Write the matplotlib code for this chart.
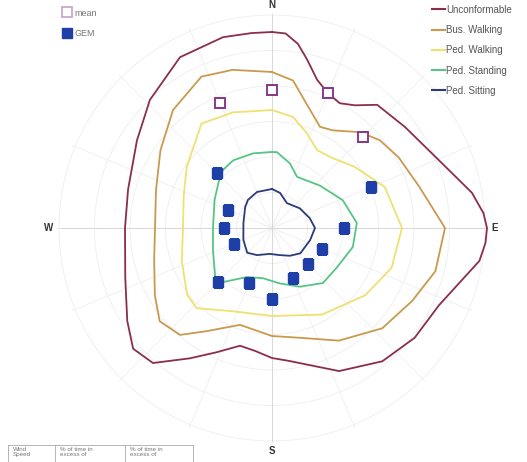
import numpy as np
import matplotlib
matplotlib.use('Agg')
import matplotlib.pyplot as plt
from matplotlib.lines import Line2D

plt.rcParams['font.family'] = ['Liberation Sans', 'DejaVu Sans']

# comfort contours: compass direction (deg) and radius (chart units, outer ring = 213)
unc_dir = [0, 4, 8, 11.8, 16.9, 22.5, 28.5, 34, 40.5, 52.8, 67.8, 80, 86, 90, 94, 99, 114.8,
           127.6, 140.4, 154.9, 172.7, 180, 188, 195.2, 204, 212.2, 221.4, 229, 237.3, 251.2,
           270, 285, 303, 316.4, 331.7, 345.6, 354]
unc_r = [196, 195, 186, 172, 155, 146, 142, 148, 162, 167, 180, 203, 212, 215, 214, 210, 184,
         180, 173, 158, 134, 130, 124, 122, 136, 154, 180, 184, 172, 155,
         147, 149, 161, 177, 194, 197, 196]

bus_dir = [0, 8.1, 17.9, 25.4, 31.9, 42.5, 50.8, 60.8, 74.4, 90, 104.8, 117.5, 132.3, 149.3,
           163.3, 180, 198.3, 212.3, 220.7, 230.3, 240.2, 255, 270, 288, 304.9, 320, 335, 346]
bus_r = [156, 149, 124, 112, 115, 130, 139, 145, 153, 173, 169, 158, 149, 131,
         115, 108, 102, 122, 141, 146, 135, 122, 117, 122, 136, 154, 167, 163]

pw_dir = [0, 10.7, 20.2, 30, 40, 53.7, 70, 90, 108.4, 125.8, 150, 180, 205.2, 223.2, 231.8,
          250, 270, 290, 305.7, 326, 341.4]
pw_r = [118, 113, 101, 90, 92, 103, 120, 130, 126, 115, 100, 88, 92, 110, 108,
        96, 89, 94, 105, 126, 122]

ps_dir = [0, 3.8, 15.5, 26.1, 48.6, 68.5, 86.6, 103.2, 121, 137.2, 154.6, 172, 190.2, 207,
          222.2, 229.3, 249.6, 270, 296.2, 314.4, 319.8, 330.2, 345.8]
ps_r = [76, 76, 67, 57, 64, 76, 85, 83, 76, 75, 65, 56, 51, 55,
        73, 75, 63, 59, 64, 73, 76, 78, 77]

sit_dir = [0, 12.9, 31, 54.5, 75.3, 90, 107.5, 131.8, 147.3, 165, 185, 209, 225, 247.5,
           279.8, 307.9, 319.4, 337.4]
sit_r = [39, 36, 29, 34, 39, 43, 40, 38, 33, 28, 26, 31, 35, 31, 29, 34, 37, 39]

# point data
mean_dir = [337.5, 0, 22.5, 45]
mean_r = [135, 138, 146, 129]
gem_dir = [67.5, 90, 112.5, 135, 157.5, 180, 202.5, 225, 247.5, 270, 292.5, 315]
gem_r = [107, 72, 54, 51, 54, 71, 60, 77, 41, 48, 48, 78]

labels = ['Unconformable', 'Bus. Walking', 'Ped. Walking', 'Ped. Standing', 'Ped. Sitting']
colors = ['#8b2d4f', '#c99a4e', '#f0e070', '#55c585', '#2a3a7a']
curves = [(unc_dir, unc_r), (bus_dir, bus_r), (pw_dir, pw_r), (ps_dir, ps_r), (sit_dir, sit_r)]

fig = plt.figure(figsize=(5.27, 4.62), dpi=100)
ax = fig.add_axes([55.5 / 527, 1 - 444.5 / 462, 433 / 527, 433 / 462], projection='polar')
ax.set_theta_zero_location('N')
ax.set_theta_direction(-1)
ax.set_ylim(0, 216.5)
ax.spines['polar'].set_visible(False)
ax.set_thetagrids(np.arange(0, 360, 22.5), labels=[''] * 16)
ax.set_rgrids(np.linspace(0, 213, 7)[1:], labels=[''] * 6)
ax.grid(color='#f0f0f0', linewidth=0.7)
ax.tick_params(pad=0)
# main axes lines slightly darker
for a in [0, 90]:
    ax.plot(np.radians([a, a + 180]), [213, 213], color='#d8d8d8', linewidth=0.7)

for (d, r), c, lab in zip(curves, colors, labels):
    th = np.radians(list(d) + [d[0]])
    ax.plot(th, list(r) + [r[0]], color=c, linewidth=1.3, label=lab,
            solid_joinstyle='round')

ax.plot(np.radians(mean_dir), mean_r, linestyle='none', marker='s', markersize=6.5,
        markerfacecolor='white', markeredgecolor='#8a3a8a', markeredgewidth=1.4)
ax.plot(np.radians(gem_dir), gem_r, linestyle='none', marker='s', markersize=7,
        color='#1f3fa8')

for name, a in [('N', 0), ('E', 90), ('S', 180), ('W', 270)]:
    ax.text(np.radians(a), 223, name, ha='center', va='center', fontsize=7,
            fontweight='bold', color='#333333', clip_on=False)

# right legend: contour lines
handles = [Line2D([], [], color=c, linewidth=1.5) for c in colors]
fig.legend(handles, labels, loc='upper left', bbox_to_anchor=(428 / 527, 1 - 1 / 462),
           frameon=False, fontsize=7, handlelength=1.3, handletextpad=0.2,
           labelspacing=1.05, labelcolor='#555555', borderaxespad=0)

# left legend: markers
mh = [Line2D([], [], linestyle='none', marker='s', markersize=6.5, markerfacecolor='white',
             markeredgecolor='#c8a0c8', markeredgewidth=1.2),
      Line2D([], [], linestyle='none', marker='s', markersize=6.5, color='#1f3fa8')]
fig.legend(mh, ['mean', 'GEM'], loc='upper left', bbox_to_anchor=(60 / 527, 1 - 5 / 462),
           frameon=False, fontsize=6.5, handlelength=0.8, handletextpad=0.4,
           labelspacing=1.3, labelcolor='#777777', borderaxespad=0)

# table stub at bottom left
xs = [8, 55, 125, 193]
ytop = 1 - 445 / 462
for x in xs:
    fig.add_artist(Line2D([x / 527, x / 527], [0, ytop], color='#aaaaaa', linewidth=0.6))
fig.add_artist(Line2D([8 / 527, 193 / 527], [ytop, ytop], color='#aaaaaa', linewidth=0.6))
cells = ['Wind\nSpeed', '% of time in\nexcess of', '% of time in\nexcess of']
for x, t in zip(xs[:-1], cells):
    fig.text((x + 5) / 527, 1 - 447 / 462, t, fontsize=4.5, color='#777777',
             va='top', ha='left', linespacing=1.1)

fig.savefig('out.png', dpi=100)
